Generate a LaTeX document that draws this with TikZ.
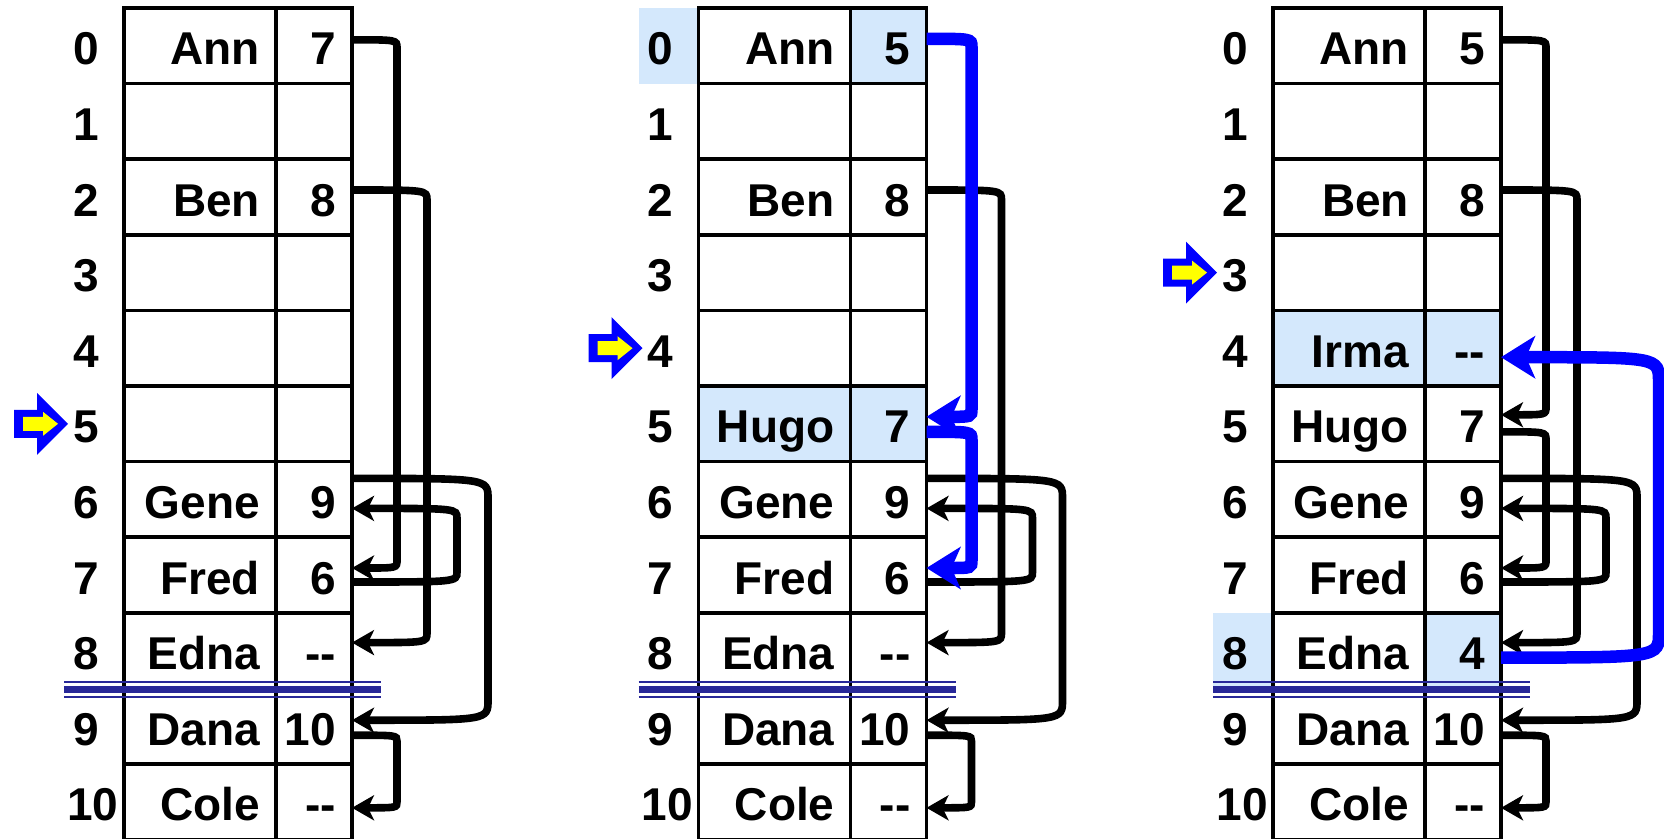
\documentclass[tikz,border=0pt]{standalone}
\usepackage{fontspec}
\setmainfont{Liberation Sans}
\usetikzlibrary{arrows.meta,calc}
\definecolor{hl}{RGB}{212,232,252}
\definecolor{dblue}{RGB}{40,40,152}
\definecolor{pblue}{RGB}{0,0,255}
\definecolor{pyellow}{RGB}{255,255,0}
% #1 style, #2 source, #3 source offset, #4 target, #5 target offset, #6 reach, #7 bend
\newcommand\linkarrow[7]{%
  \path ($(#2.east)+(0,#3)$) coordinate (ls) ($(#4.east)+(0,#5)$) coordinate (lt);
  \draw[#1] (ls) .. controls ($(ls)+(#6,0)$) .. ($(ls)+({#6},{#7})$) -- ($(lt)+({#6},{-1*(#7)})$) .. controls ($(lt)+(#6,0)$) .. (lt);
}
\begin{document}
\begin{tikzpicture}[x=1pt,y=-1pt,
  cellbox/.style={draw=black,line width=3.5pt,inner sep=0pt,outer sep=0pt,minimum height=75.6pt,anchor=north west},
  namecell/.style={cellbox,minimum width=152pt},
  valcell/.style={cellbox,minimum width=76pt},
  txt/.style={font=\bfseries\fontsize{46}{46}\selectfont,inner sep=0pt,outer sep=0pt},
  blk/.style={draw=black,line width=7.6pt,-{Stealth[length=22pt,width=25pt,inset=6pt]}},
  blu/.style={draw=pblue,line width=12.5pt,-{Stealth[length=34pt,width=42pt,inset=9pt]}},
  ptr/.pic={
    \fill[pblue] (0,0) -- (-31,-31) -- (-31,-14) -- (-54,-14) -- (-54,14) -- (-31,14) -- (-31,31) -- cycle;
    \fill[pyellow] (-10,0) -- (-25,-12) -- (-25,-7) -- (-45,-7) -- (-45,7) -- (-25,7) -- (-25,12) -- cycle;
  }
]
\useasboundingbox (0,0) rectangle (1664,838);
\clip (0,0) rectangle (1664,838);
% highlights
\fill[hl] (638.5,8) rectangle (698.5,83.6);
\fill[hl] (850.5,8) rectangle (926.5,83.6);
\fill[hl] (698.5,386) rectangle (926.5,461.6);
\fill[hl] (1273,310.4) rectangle (1501,386);
\fill[hl] (1213,612.8) rectangle (1273,688.4);
\fill[hl] (1425,612.8) rectangle (1501,688.4);
% tables
\foreach \p/\ox in {A/0,B/574.5,C/1149}{
  \foreach \r/\ix in {0/86,1/86,2/86,3/86,4/86,5/86,6/86,7/86,8/86,9/86,10/93}{
    \node[namecell] (n\p\r) at (124+\ox, 8+75.6*\r) {};
    \node[valcell] (v\p\r) at (276+\ox, 8+75.6*\r) {};
    \node[txt,anchor=base] (i\p\r) at (\ix+\ox, 8+75.6*\r+56.8) {\r};
  }
  \draw[dblue,line width=2.2pt] (64+\ox,681.7) -- (381+\ox,681.7);
  \draw[dblue,line width=6.5pt] (64+\ox,689.7) -- (381+\ox,689.7);
  \draw[dblue,line width=2.2pt] (64+\ox,696.9) -- (381+\ox,696.9);
}
% contents
\foreach \r/\nm/\vl in {0/Ann/7,2/Ben/8,6/Gene/9,7/Fred/6,8/Edna/-{}-,9/Dana/10,10/Cole/-{}-}{
  \node[txt,anchor=base east] (tnA\r) at ($(nA\r.east)+(-16,19)$) {\nm};
  \node[txt,anchor=base east] (tvA\r) at ($(vA\r.east)+(-16,19)$) {\vl};
}
\foreach \r/\nm/\vl in {0/Ann/5,2/Ben/8,5/Hugo/7,6/Gene/9,7/Fred/6,8/Edna/-{}-,9/Dana/10,10/Cole/-{}-}{
  \node[txt,anchor=base east] (tnB\r) at ($(nB\r.east)+(-16,19)$) {\nm};
  \node[txt,anchor=base east] (tvB\r) at ($(vB\r.east)+(-16,19)$) {\vl};
}
\foreach \r/\nm/\vl in {0/Ann/5,2/Ben/8,4/Irma/-{}-,5/Hugo/7,6/Gene/9,7/Fred/6,8/Edna/4,9/Dana/10,10/Cole/-{}-}{
  \node[txt,anchor=base east] (tnC\r) at ($(nC\r.east)+(-16,19)$) {\nm};
  \node[txt,anchor=base east] (tvC\r) at ($(vC\r.east)+(-16,19)$) {\vl};
}
% panel A links
\linkarrow{blk}{vA0}{-6}{vA7}{-7}{45}{8}
\linkarrow{blk}{vA2}{-7}{vA8}{-8}{75}{10}
\linkarrow{blk}{vA6}{-21}{vA9}{-6}{136}{20}
\linkarrow{blk}{vA7}{7}{vA6}{9}{105}{-10}
\linkarrow{blk}{vA9}{9}{vA10}{6}{45}{6}
% panel B links
\linkarrow{blk}{vB2}{-7}{vB8}{-8}{75}{10}
\linkarrow{blk}{vB6}{-21}{vB9}{-6}{136}{20}
\linkarrow{blk}{vB7}{7}{vB6}{9}{106}{-10}
\linkarrow{blk}{vB9}{9}{vB10}{6}{45}{6}
\linkarrow{blu}{vB0}{-7}{vB5}{-7}{45}{8}
\linkarrow{blu}{vB5}{8}{vB7}{-7}{45}{8}
% panel C links
\linkarrow{blk}{vC0}{-6}{vC5}{-9}{45}{8}
\linkarrow{blk}{vC2}{-7}{vC8}{-8}{76}{10}
\linkarrow{blk}{vC5}{8}{vC7}{-7}{45}{8}
\linkarrow{blk}{vC6}{-21}{vC9}{-6}{136}{20}
\linkarrow{blk}{vC7}{7}{vC6}{9}{105}{-10}
\linkarrow{blk}{vC9}{9}{vC10}{6}{45}{6}
\linkarrow{blu}{vC8}{7}{vC4}{9}{158}{-25}
% pointers
\pic at (68,423.8) {ptr};
\pic at (642.5,348.2) {ptr};
\pic at (1217,272.6) {ptr};
\end{tikzpicture}
\end{document}
